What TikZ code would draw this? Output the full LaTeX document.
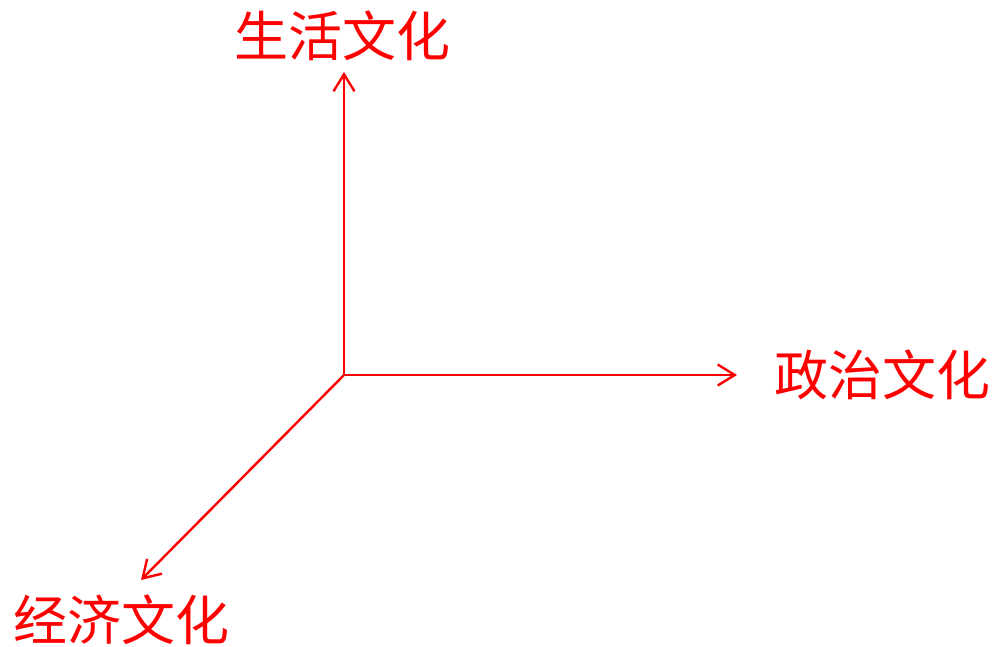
\documentclass[tikz,border=0pt]{standalone}
\usepackage{fontspec}
\newfontfamily\cjk{Noto Sans CJK SC}
\usetikzlibrary{arrows.meta}
\begin{document}
\begin{tikzpicture}[x=1pt,y=-1pt,
  axis/.style={draw=red,line width=2.4pt,-{Straight Barb[length=17pt,width=21pt,line width=2.4pt]}},
  lbl/.style={text=red,inner sep=0pt,font=\cjk\fontsize{54}{60}\selectfont}]
\useasboundingbox (0,0) rectangle (994,646);
\coordinate (o) at (344,375);
\coordinate (up) at (344,72);
\coordinate (rt) at (737,375);
\coordinate (dl) at (141,580);
\draw[axis] (o) -- (up);
\draw[axis] (o) -- (rt);
\draw[axis] (o) -- (dl);
\node[lbl] (life) at (342,36) {生活文化};
\node[lbl] (pol) at (882,375) {政治文化};
\node[lbl] (eco) at (121,620) {经济文化};
\end{tikzpicture}
\end{document}
